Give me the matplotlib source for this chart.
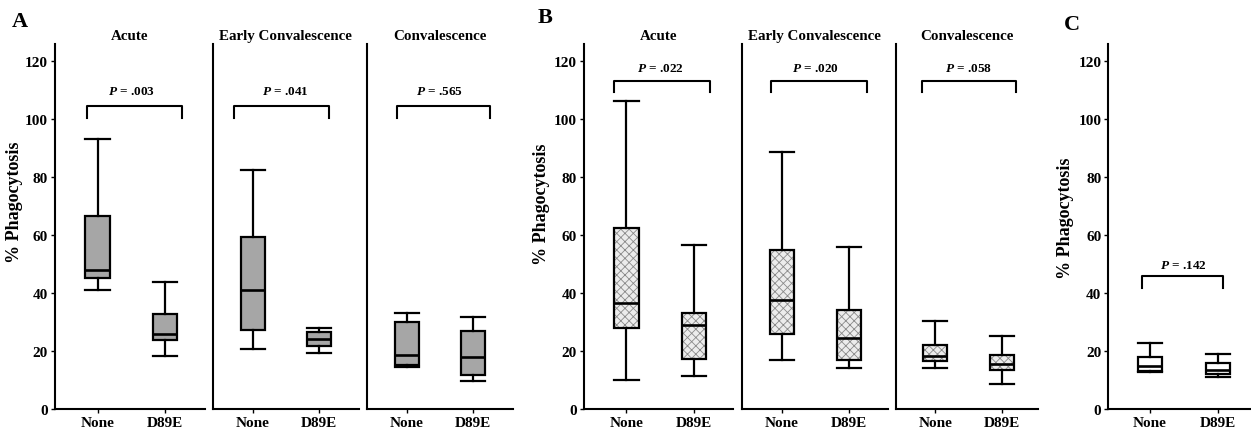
import matplotlib
matplotlib.use("Agg")
import matplotlib.pyplot as plt
from matplotlib.patches import PathPatch

# ---------------- data ----------------
categories = ["None", "D89E"]
periods = ["Acute", "Early Convalescence", "Convalescence"]
y_ticks = [0, 20, 40, 60, 80, 100, 120]

# five-number summaries: [whisker low, Q1, median, Q3, whisker high]
a_acute_none = [41.0, 45.1, 48.0, 66.5, 93.0]
a_acute_d89e = [18.4, 23.9, 26.0, 32.7, 43.9]
a_early_none = [20.7, 27.2, 41.0, 59.2, 82.4]
a_early_d89e = [19.3, 21.6, 24.1, 26.4, 27.9]
a_conv_none = [14.4, 15.3, 18.6, 29.9, 33.1]
a_conv_d89e = [9.5, 11.8, 18.0, 26.8, 31.8]

b_acute_none = [10.0, 28.0, 36.6, 62.3, 106.2]
b_acute_d89e = [11.5, 17.3, 28.9, 33.2, 56.4]
b_early_none = [17.0, 26.0, 37.5, 54.7, 88.7]
b_early_d89e = [14.3, 16.8, 24.5, 34.1, 55.9]
b_conv_none = [14.0, 16.4, 18.2, 22.0, 30.4]
b_conv_d89e = [8.7, 13.5, 15.6, 18.5, 25.1]

c_none = [12.7, 13.2, 14.9, 18.0, 22.6]
c_d89e = [11.2, 12.2, 13.4, 16.0, 18.8]

p_values_a = [".003", ".041", ".565"]
p_values_b = [".022", ".020", ".058"]
p_values_c = [".142"]

# ---------------- style ----------------
plt.rcParams['font.family'] = ['Liberation Serif', 'DejaVu Serif']
plt.rcParams['font.weight'] = 'bold'
plt.rcParams['mathtext.fontset'] = 'custom'
plt.rcParams['mathtext.it'] = 'Liberation Serif:italic:bold'
plt.rcParams['mathtext.rm'] = 'Liberation Serif:bold'
plt.rcParams['hatch.linewidth'] = 0.6

W, H = 1251, 435
fig = plt.figure(figsize=(W / 100, H / 100), dpi=100)

TOP, BOTTOM = 44.6, 410.0
YMAX = 126.0


def add_axes(left, right):
    return fig.add_axes([left / W, 1 - BOTTOM / H, (right - left) / W, (BOTTOM - TOP) / H])


def draw_panel(ax, pair, title, pval, xlim, bracket, face, hatch, first):
    stats = [dict(whislo=s[0], q1=s[1], med=s[2], q3=s[3], whishi=s[4], label=c)
             for s, c in zip(pair, categories)]
    art = ax.bxp(stats, positions=[1, 2], widths=0.36, capwidths=0.36,
                 showfliers=False, patch_artist=True,
                 boxprops=dict(facecolor='none', edgecolor='black', linewidth=1.6),
                 whiskerprops=dict(color='black', linewidth=1.6),
                 capprops=dict(color='black', linewidth=1.6),
                 medianprops=dict(color='black', linewidth=1.9))
    for b in art['boxes']:
        pp = PathPatch(b.get_path(), facecolor=face, edgecolor='#8a8a8a' if hatch else face,
                       hatch=hatch, linewidth=0, zorder=1.9)
        ax.add_patch(pp)
    ax.set_xlim(*xlim)
    ax.set_ylim(0, YMAX)
    for s in ('top', 'right'):
        ax.spines[s].set_visible(False)
    for s in ('left', 'bottom'):
        ax.spines[s].set_linewidth(1.5)
    ax.set_xticks([1, 2])
    ax.set_xticklabels(categories, fontsize=11, fontweight='bold')
    ax.tick_params(axis='x', direction='out', length=3, width=1, pad=2)
    if first:
        ax.set_yticks(y_ticks)
        ax.set_yticklabels([str(t) for t in y_ticks], fontsize=11, fontweight='bold')
        ax.tick_params(axis='y', direction='out', length=3, width=1, pad=2)
    else:
        ax.set_yticks([])
    if title:
        ax.set_title(title, fontsize=10.8, fontweight='bold', pad=3)
    x1, x2, ytop, yleg, ytext = bracket
    ax.plot([x1, x1, x2, x2], [yleg, ytop, ytop, yleg], color='black', lw=1.5,
            solid_joinstyle='round', clip_on=False)
    ax.text(1.5, ytext, r"$P$ = " + pval, ha='center', va='center', fontsize=9.5,
            fontweight='bold')


# panel A
a_pairs = [(a_acute_none, a_acute_d89e), (a_early_none, a_early_d89e), (a_conv_none, a_conv_d89e)]
a_rects = [(55, 205), (212.7, 359), (366.7, 513)]
a_xlims = [(0.37, 2.59), (0.39, 2.61), (0.39, 2.61)]
a_brk = [(0.85, 2.25), (0.72, 2.15), (0.85, 2.26)]
for i in range(3):
    ax = add_axes(*a_rects[i])
    x1, x2 = a_brk[i]
    draw_panel(ax, a_pairs[i], periods[i], p_values_a[i], a_xlims[i],
               (x1, x2, 104.5, 100.5, 109.7), '#a6a6a6', None, i == 0)

# panel B
b_pairs = [(b_acute_none, b_acute_d89e), (b_early_none, b_early_d89e), (b_conv_none, b_conv_d89e)]
b_rects = [(584, 733), (741.7, 888), (895.7, 1038)]
b_xlims = [(0.37, 2.58), (0.40, 2.58), (0.40, 2.55)]
b_brk = [(0.81, 2.24), (0.84, 2.26), (0.80, 2.22)]
for i in range(3):
    ax = add_axes(*b_rects[i])
    x1, x2 = b_brk[i]
    draw_panel(ax, b_pairs[i], periods[i], p_values_b[i], b_xlims[i],
               (x1, x2, 113.2, 109.2, 117.6), '#ececec', 'xxxx', i == 0)

# panel C
ax = add_axes(1108.3, 1251)
draw_panel(ax, (c_none, c_d89e), None, p_values_c[0], (0.385, 2.49),
           (0.88, 2.07, 45.7, 41.7, 49.8), 'white', None, True)

# labels
for x, y, letter in [(20, 22, 'A'), (545, 18, 'B'), (1072, 25, 'C')]:
    fig.text(x / W, 1 - y / H, letter, fontsize=16, fontweight='bold', ha='center', va='center')
for x, y in [(15, 202), (542, 204), (1065, 218)]:
    fig.text(x / W, 1 - y / H, '% Phagocytosis', fontsize=13, fontweight='bold',
             rotation=90, ha='center', va='center')

fig.savefig('out.png', dpi=100)
